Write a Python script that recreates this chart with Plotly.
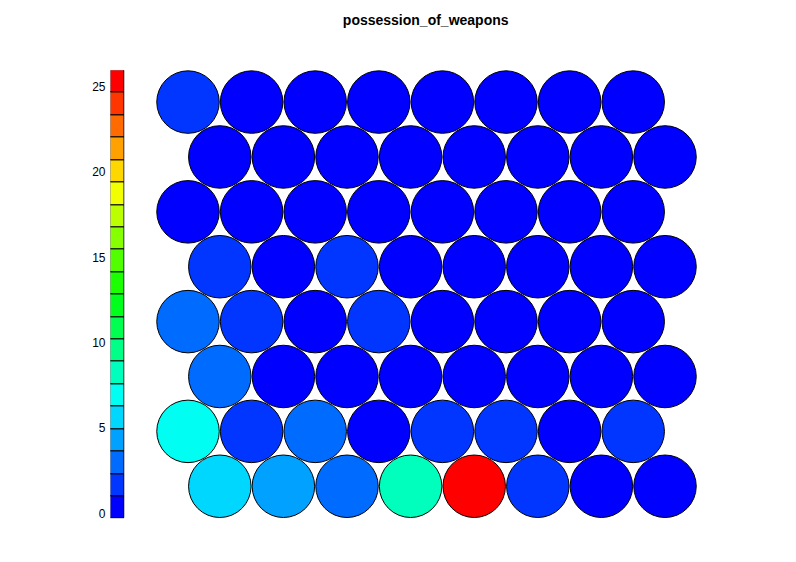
import colorsys
import numpy as np
import plotly.graph_objects as go

# SOM property values, rows listed from bottom (row 0) to top (row 7), 8 units per row
row0 = [5.6, 4.3, 3.0, 8.2, 25.7, 1.7, 0.4, 0.4]
row1 = [6.9, 1.7, 3.0, 0.4, 1.7, 1.7, 0.4, 1.7]
row2 = [3.0, 0.4, 0.4, 0.4, 0.4, 0.4, 0.4, 0.4]
row3 = [3.0, 1.7, 0.4, 1.7, 0.4, 0.4, 0.4, 0.4]
row4 = [1.7, 0.4, 1.7, 0.4, 0.4, 0.4, 0.4, 0.4]
row5 = [0.4, 0.4, 0.4, 0.4, 0.4, 0.4, 0.4, 0.4]
row6 = [0.4, 0.4, 0.4, 0.4, 0.4, 0.4, 0.4, 0.4]
row7 = [1.7, 0.4, 0.4, 0.4, 0.4, 0.4, 0.4, 0.4]
rows = [row0, row1, row2, row3, row4, row5, row6, row7]

title_text = "possession_of_weapons"
zmin, zmax = -0.3, 25.95
n_colors = 20
tick_vals = [0, 5, 10, 15, 20, 25]

# coolBlueHotRed palette: rainbow(n, end=4/6) reversed
palette = []
for i in range(n_colors):
    h = (4 / 6) * (n_colors - 1 - i) / (n_colors - 1)
    r, g, b = colorsys.hsv_to_rgb(h, 1, 1)
    palette.append("#%02X%02X%02X" % (round(r * 255), round(g * 255), round(b * 255)))

def color_for(v):
    k = int((v - zmin) / (zmax - zmin) * n_colors)
    return palette[min(max(k, 0), n_colors - 1)]

xs, ys, cols = [], [], []
for r, vals in enumerate(rows):
    for c, v in enumerate(vals):
        xs.append(c + (0.5 if r % 2 == 0 else 0.0))
        ys.append(r * np.sqrt(3) / 2)
        cols.append(color_for(v))

fig = go.Figure()
fig.add_trace(go.Scatter(
    x=xs, y=ys, mode="markers",
    marker=dict(size=62.5, color=cols, line=dict(color="black", width=1)),
    hoverinfo="skip", showlegend=False, xaxis="x", yaxis="y"))

w = (zmax - zmin) / n_colors
edges = [zmin + i * w for i in range(n_colors)]
fig.add_trace(go.Bar(
    x=[0] * n_colors, y=[w] * n_colors, base=edges, width=1,
    marker=dict(color=palette, line=dict(color="black", width=1)),
    hoverinfo="skip", showlegend=False, xaxis="x2", yaxis="y2"))

W, H = 796, 562
u = 63.6
x_px0, y_px0 = 188, 488
xl, xr = 150, 710
yt, yb = 60, 530
fig.update_layout(
    width=W, height=H, margin=dict(l=0, r=0, t=0, b=0),
    paper_bgcolor="white", plot_bgcolor="rgba(0,0,0,0)",
    bargap=0,
    title=dict(text="<b>" + title_text + "</b>", x=425.7 / W, xanchor="center",
               y=1 - 20 / H, yanchor="middle",
               font=dict(family="Liberation Sans", size=14, color="black")),
    xaxis=dict(domain=[xl / W, xr / W],
               range=[(xl - x_px0) / u, (xr - x_px0) / u],
               visible=False, fixedrange=True),
    yaxis=dict(domain=[1 - yb / H, 1 - yt / H],
               range=[(y_px0 - yb) / u, (y_px0 - yt) / u],
               visible=False, fixedrange=True),
    xaxis2=dict(domain=[110.5 / W, 124.5 / W], range=[-0.5, 0.5],
                visible=False, fixedrange=True, anchor="y2"),
    yaxis2=dict(domain=[1 - 520.5 / H, 1 - 70.5 / H], range=[zmin, zmax],
                anchor="x2", tickvals=tick_vals, ticks="", showgrid=False,
                zeroline=False, showline=False, ticklabelstandoff=4,
                tickfont=dict(family="Liberation Sans", size=12, color="black"),
                fixedrange=True),
)

fig.write_html("out.html")
